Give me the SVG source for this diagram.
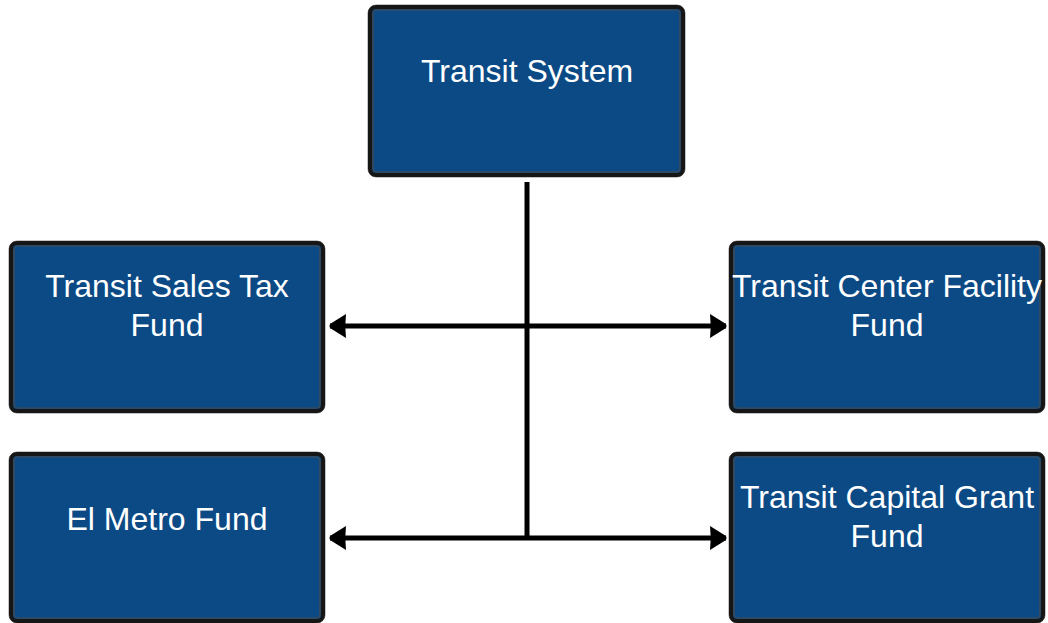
<svg xmlns="http://www.w3.org/2000/svg" width="1048" height="623" viewBox="0 0 1048 623">
<defs>
<style>
.box{fill:#0B4A85;stroke:#161616;stroke-width:4}
.halo{fill:none;stroke:#8a8a8a;stroke-width:1}
.inner{fill:none;stroke:#4a4a4a;stroke-width:1.2}
.lbl{fill:#ffffff;font-family:"Liberation Sans",Arial,sans-serif;font-size:32px;text-anchor:middle}
.conn{stroke:#000;stroke-width:5;fill:none}
</style>
<marker id="ah" viewBox="0 0 17 24" refX="16" refY="12" markerWidth="17" markerHeight="24" markerUnits="userSpaceOnUse" orient="auto-start-reverse">
<path d="M0,0 L16,10 Q17,12 16,14 L0,24 Q1.5,12 0,0 Z" fill="#000"/>
</marker>
</defs>
<rect width="1048" height="623" fill="#ffffff"/>
<g id="connectors">
<line class="conn" x1="527" y1="182" x2="527" y2="540"/>
<line class="conn" x1="330" y1="326" x2="726" y2="326" marker-start="url(#ah)" marker-end="url(#ah)"/>
<line class="conn" x1="330" y1="538" x2="726" y2="538" marker-start="url(#ah)" marker-end="url(#ah)"/>
</g>
<g id="transit-system">
<rect class="halo" x="368" y="5" width="317" height="172" rx="8"/>
<rect class="box" x="370" y="7" width="313" height="168" rx="6"/>
<rect class="inner" x="373" y="10" width="307" height="162" rx="4"/>
<text class="lbl" x="527" y="82">Transit System</text>
</g>
<g id="sales-tax">
<rect class="halo" x="9" y="241" width="316" height="172" rx="8"/>
<rect class="box" x="11" y="243" width="312" height="168" rx="6"/>
<rect class="inner" x="14" y="246" width="306" height="162" rx="4"/>
<text class="lbl" x="167" y="297">Transit Sales Tax</text>
<text class="lbl" x="167" y="336">Fund</text>
</g>
<g id="center-facility">
<rect class="halo" x="729" y="241" width="316" height="172" rx="8"/>
<rect class="box" x="731" y="243" width="312" height="168" rx="6"/>
<rect class="inner" x="734" y="246" width="306" height="162" rx="4"/>
<text class="lbl" x="887" y="297">Transit Center Facility</text>
<text class="lbl" x="887" y="336">Fund</text>
</g>
<g id="el-metro">
<rect class="halo" x="9" y="452" width="316" height="171" rx="8"/>
<rect class="box" x="11" y="454" width="312" height="167" rx="6"/>
<rect class="inner" x="14" y="457" width="306" height="161" rx="4"/>
<text class="lbl" x="167" y="530">El Metro Fund</text>
</g>
<g id="capital-grant">
<rect class="halo" x="729" y="452" width="316" height="171" rx="8"/>
<rect class="box" x="731" y="454" width="312" height="167" rx="6"/>
<rect class="inner" x="734" y="457" width="306" height="161" rx="4"/>
<text class="lbl" x="887" y="508">Transit Capital Grant</text>
<text class="lbl" x="887" y="547">Fund</text>
</g>
</svg>
